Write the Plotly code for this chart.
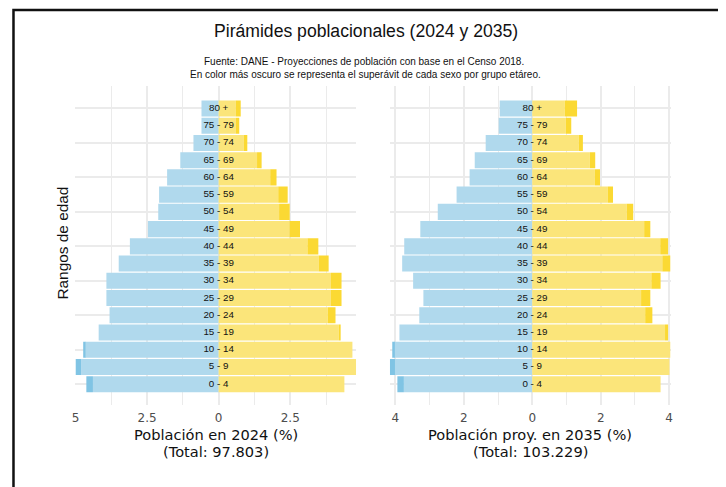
import plotly.graph_objects as go

# ---- data ----
age_groups = ["0 - 4", "5 - 9", "10 - 14", "15 - 19", "20 - 24", "25 - 29", "30 - 34",
              "35 - 39", "40 - 44", "45 - 49", "50 - 54", "55 - 59", "60 - 64",
              "65 - 69", "70 - 74", "75 - 79", "80 +"]
male_2024 = [4.62, 5.00, 4.73, 4.19, 3.81, 3.92, 3.92, 3.49, 3.10, 2.47, 2.11, 2.08, 1.80,
             1.34, 0.88, 0.60, 0.60]
female_2024 = [4.39, 4.80, 4.67, 4.26, 4.08, 4.29, 4.29, 3.84, 3.48, 2.84, 2.48, 2.41, 2.02,
               1.50, 1.00, 0.72, 0.77]
male_2035 = [3.94, 4.16, 4.09, 3.88, 3.30, 3.18, 3.48, 3.80, 3.74, 3.27, 2.76, 2.21, 1.83,
             1.68, 1.36, 0.98, 0.95]
female_2035 = [3.75, 4.01, 4.04, 3.97, 3.51, 3.45, 3.75, 4.04, 3.97, 3.45, 2.95, 2.36, 1.98,
               1.84, 1.48, 1.14, 1.31]
ticks_2024 = [-5, -2.5, 0, 2.5]
ticks_2035 = [-4, -2, 0, 2, 4]
totals = {"2024": "97.803", "2035": "103.229"}

W, H = 726, 487
OFF = 8  # page body margin
LIGHT_BLUE, DARK_BLUE = "#b0d9ed", "#80c4e4"
LIGHT_YEL, DARK_YEL = "#fbe57a", "#fbd933"
GRID = "#ebebeb"


def px_x(p):
    return (p - OFF) / W


def px_y(p):
    return 1 - (p - OFF) / H


fig = go.Figure()


def add_panel(male, female, xa, ya):
    lo = [min(m, f) for m, f in zip(male, female)]
    m_extra = [max(m - l, 0) for m, l in zip(male, lo)]
    f_extra = [max(f - l, 0) for f, l in zip(female, lo)]
    common = dict(orientation="h", y=age_groups, xaxis=xa, yaxis=ya, showlegend=False,
                  hoverinfo="skip", marker_line_width=0)
    fig.add_trace(go.Bar(x=[-v for v in lo], base=0, marker_color=LIGHT_BLUE, **common))
    fig.add_trace(go.Bar(x=[-v for v in m_extra], base=[-v for v in lo],
                         marker_color=DARK_BLUE, **common))
    fig.add_trace(go.Bar(x=lo, base=0, marker_color=LIGHT_YEL, **common))
    fig.add_trace(go.Bar(x=f_extra, base=lo, marker_color=DARK_YEL, **common))
    fig.add_trace(go.Scatter(x=[0] * len(age_groups), y=age_groups, mode="text",
                             text=age_groups, textposition="middle center",
                             textfont=dict(family="Liberation Sans", size=9.8, color="#111111"),
                             xaxis=xa, yaxis=ya, showlegend=False, hoverinfo="skip"))


add_panel(male_2024, female_2024, "x", "y")
add_panel(male_2035, female_2035, "x2", "y2")

ydom = [px_y(405), px_y(86)]
tickfont = dict(family="DejaVu Sans", size=12, color="#4d4d4d")


def xaxis_cfg(dom, male, female, ticks, minor_dtick):
    return dict(domain=dom, range=[-max(male), max(female)], tickmode="array",
                tickvals=ticks, ticktext=[f"{abs(t):g}" for t in ticks],
                showgrid=True, gridcolor=GRID, gridwidth=1.5, zeroline=False,
                showline=False, ticks="", tickfont=tickfont, ticklabelstandoff=4,
                minor=dict(dtick=minor_dtick, tick0=0, showgrid=True, gridcolor=GRID,
                           gridwidth=1),
                fixedrange=True)


def yaxis_cfg(anchor):
    return dict(domain=ydom, anchor=anchor, type="category", categoryorder="array",
                categoryarray=age_groups, range=[-1.2, 17.3], tickmode="array",
                tickvals=age_groups[::2], showticklabels=False, showgrid=True,
                gridcolor=GRID, gridwidth=1.5, zeroline=False, showline=False, ticks="")


fig.update_layout(
    width=W, height=H, autosize=False,
    margin=dict(l=0, r=0, t=0, b=0, pad=0),
    paper_bgcolor="white", plot_bgcolor="white",
    barmode="overlay", bargap=0.07,
    xaxis=dict(anchor="y", **xaxis_cfg([px_x(72), px_x(355)], male_2024, female_2024,
                                       ticks_2024, 1.25)),
    xaxis2=dict(anchor="y2", **xaxis_cfg([px_x(389), px_x(672)], male_2035, female_2035,
                                         ticks_2035, 1)),
    yaxis=yaxis_cfg("x"),
    yaxis2=yaxis_cfg("x2"),
)

ann = []
ann.append(dict(text="Pirámides poblacionales (2024 y 2035)", x=px_x(365), y=px_y(31),
                font=dict(family="Liberation Sans", size=17.6, color="#111111")))
ann.append(dict(text="Fuente: DANE - Proyecciones de población con base en el Censo 2018.",
                x=px_x(363), y=px_y(62),
                font=dict(family="Liberation Sans", size=10, color="#111111")))
ann.append(dict(text="En color más oscuro se representa el superávit de cada sexo por grupo etáreo.",
                x=px_x(364), y=px_y(74),
                font=dict(family="Liberation Sans", size=10, color="#111111")))
ann.append(dict(text="Rangos de edad", x=px_x(58), y=px_y(243), textangle=-90,
                font=dict(family="Liberation Sans", size=15.4, color="#111111")))
for cx, lab, yr in [(213.5, "Población en 2024 (%)", "2024"),
                    (530.5, "Población proy. en 2035 (%)", "2035")]:
    ann.append(dict(text=lab, x=px_x(cx), y=px_y(434.5), borderpad=0,
                    font=dict(family="DejaVu Sans", size=14.6, color="#111111")))
    ann.append(dict(text=f"(Total: {totals[yr]})", x=px_x(cx), y=px_y(451), borderpad=0,
                    font=dict(family="DejaVu Sans", size=14.6, color="#111111")))
for a in ann:
    a.update(xref="paper", yref="paper", xanchor="center", yanchor="middle",
             showarrow=False)
fig.update_layout(annotations=ann)

# outer frame (top and left edges visible)
fig.add_shape(type="path", xref="paper", yref="paper",
              path=f"M {px_x(9.5)} {px_y(H + 20)} L {px_x(9.5)} {px_y(10)} L {px_x(W + 20)} {px_y(10)}",
              line=dict(color="#111111", width=2.5))

fig.write_html("out.html")
